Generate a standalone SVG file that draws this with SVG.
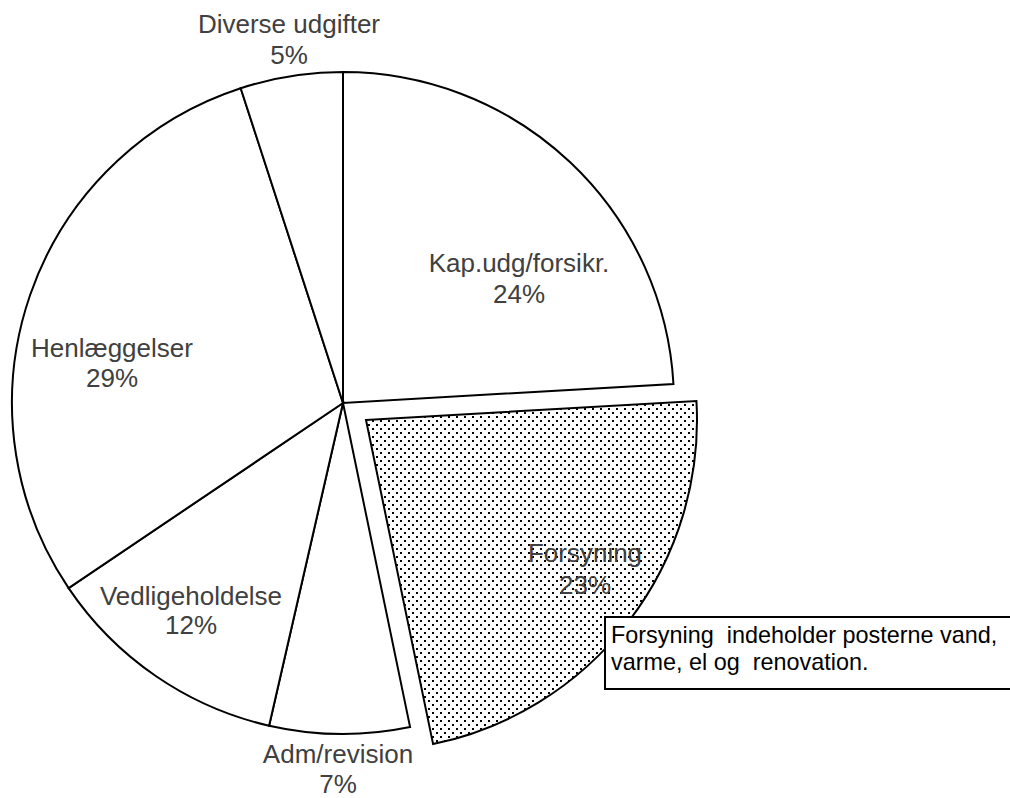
<svg xmlns="http://www.w3.org/2000/svg" width="1010" height="798" viewBox="0 0 1010 798">
<style>
.slice{fill:#fff;stroke:#000;stroke-width:2;stroke-linejoin:miter}
.dotted{fill:url(#dots);stroke:#000;stroke-width:2}
.lbl{font-family:"Liberation Sans",Arial,sans-serif;font-size:26px;fill:#404040;text-anchor:middle}
.note{font-family:"Liberation Sans",Arial,sans-serif;font-size:23.4px;fill:#000;white-space:pre}
</style>
<defs>
<pattern id="dots" patternUnits="userSpaceOnUse" width="8" height="8">
<rect width="8" height="8" fill="#fff"/>
<rect x="0" y="0" width="2" height="2" fill="#000"/>
<rect x="4" y="4" width="2" height="2" fill="#000"/>
</pattern>
</defs>
<rect width="1010" height="798" fill="#fff"/>
<g id="kap">
<path class="slice" d="M343,403 L343,72 A331,331 0 0 1 673.45,383.94 Z"/>
<text class="lbl" x="519" y="272">Kap.udg/forsikr.</text>
<text class="lbl" x="519" y="303">24%</text>
</g>
<g id="forsyning">
<path class="dotted" d="M366,420 L696.45,400.94 A331,331 0 0 1 433.1,744.1 Z"/>
<text class="lbl" x="585" y="562">Forsyning</text>
<text class="lbl" x="585" y="594">23%</text>
</g>
<g id="adm">
<path class="slice" d="M343,403 L410.1,727.1 A331,331 0 0 1 269.1,725.7 Z"/>
<text class="lbl" x="338" y="763">Adm/revision</text>
<text class="lbl" x="338" y="793">7%</text>
</g>
<g id="vedligeholdelse">
<path class="slice" d="M343,403 L269.1,725.7 A331,331 0 0 1 68.6,588.1 Z"/>
<text class="lbl" x="191" y="605">Vedligeholdelse</text>
<text class="lbl" x="191" y="634">12%</text>
</g>
<g id="henlaeggelser">
<path class="slice" d="M343,403 L68.6,588.1 A331,331 0 0 1 240.7,88.2 Z"/>
<text class="lbl" x="112" y="357">Henlæggelser</text>
<text class="lbl" x="112" y="387">29%</text>
</g>
<g id="diverse">
<path class="slice" d="M343,403 L240.7,88.2 A331,331 0 0 1 343,72 Z"/>
<text class="lbl" x="289" y="33">Diverse udgifter</text>
<text class="lbl" x="289" y="64">5%</text>
</g>
<g id="note">
<rect x="605" y="617" width="420" height="72" fill="#fff" stroke="#000" stroke-width="2"/>
<text class="note" x="611" y="643" xml:space="preserve">Forsyning  indeholder posterne vand,</text>
<text class="note" x="611" y="670" xml:space="preserve">varme, el og  renovation.</text>
</g>
<g id="connectors"></g>
</svg>
